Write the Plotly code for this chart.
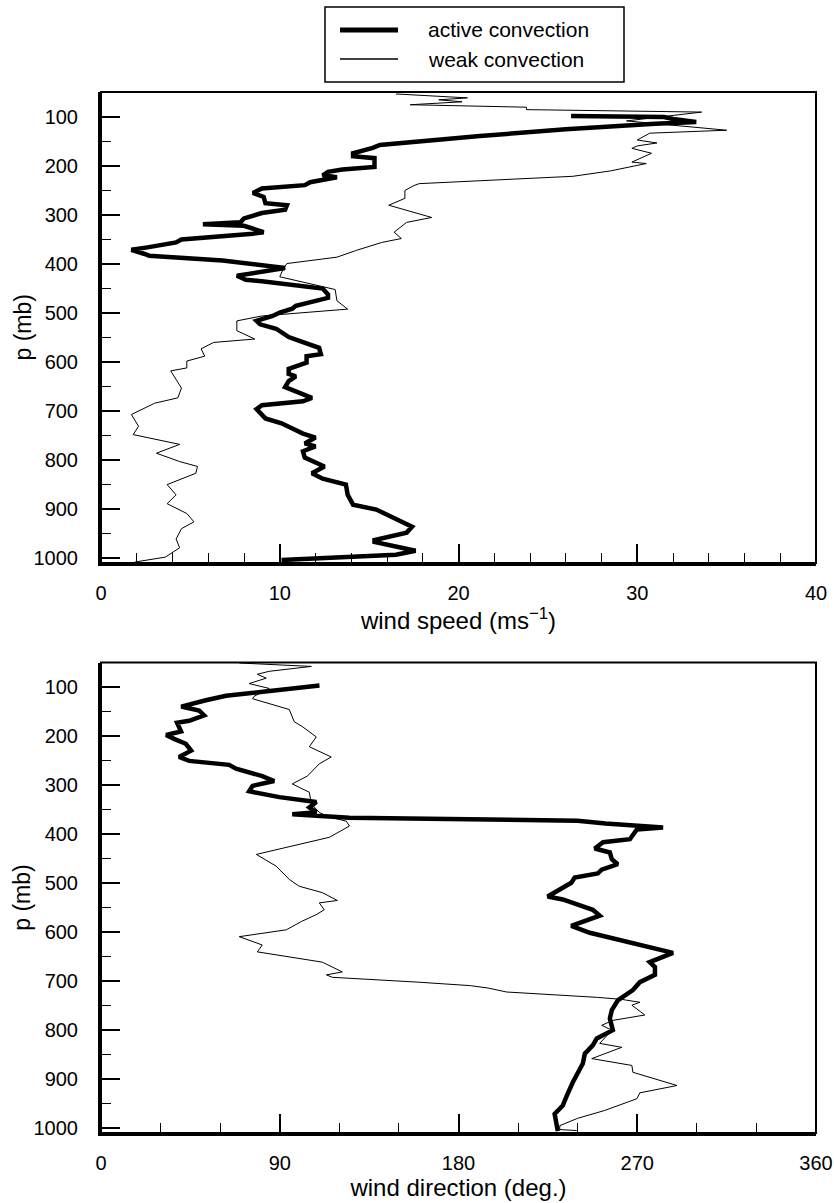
import plotly.graph_objects as go

# ---------------- data ----------------
# Top panel: wind speed (m/s) vs pressure (mb)
active_speed_p = [98, 100, 104, 110, 114, 125, 139, 150, 157, 163, 174, 180, 184, 202, 207, 212, 219, 223,
                  233, 239, 246, 255, 263, 276, 280, 289, 296, 307, 315, 319, 322, 335, 338, 350, 356, 366,
                  371, 379, 383, 393, 405, 408, 424, 432, 435, 450, 462, 469, 485, 491, 499, 506, 516, 523,
                  532, 540, 549, 557, 571, 584, 588, 601, 614, 624, 629, 639, 651, 673, 680, 688, 696, 715,
                  725, 746, 754, 766, 772, 782, 795, 813, 827, 838, 850, 871, 891, 901, 920, 936, 948, 963,
                  967, 979, 985, 993, 1004]
active_speed_v = [26.3, 31.5, 32.0, 33.3, 31.0, 26.0, 21.2, 18.0, 15.6, 15.2, 14.1, 14.1, 15.3, 15.3, 13.5, 12.7,
                  12.4, 13.2, 11.7, 11.4, 9.0, 8.5, 9.1, 9.2, 10.4, 10.3, 9.0, 8.0, 7.8, 5.7, 8.0, 9.1, 8.5,
                  4.5, 4.2, 2.6, 1.7, 2.4, 2.7, 6.8, 10.1, 10.3, 7.6, 8.1, 9.0, 12.4, 12.7, 12.7, 10.9, 10.7,
                  10.0, 9.6, 8.7, 8.9, 9.8, 10.1, 10.5, 11.1, 12.2, 12.3, 11.5, 11.5, 10.5, 10.5, 10.9, 10.5,
                  10.3, 11.8, 11.3, 9.0, 8.7, 9.2, 10.1, 11.3, 12.0, 11.4, 12.0, 11.3, 11.4, 12.5, 11.8, 12.4,
                  13.7, 13.8, 14.1, 15.4, 16.5, 17.4, 17.1, 15.3, 15.3, 16.9, 17.6, 16.5, 10.1]

weak_speed_p = [53, 61, 65, 69, 75, 80, 85, 90, 108, 127, 133, 147, 153, 159, 164, 174, 192, 195, 210, 221,
                236, 240, 250, 266, 280, 305, 315, 335, 348, 356, 372, 386, 399, 410, 426, 452, 475, 492,
                506, 516, 536, 553, 560, 573, 588, 598, 612, 618, 653, 673, 684, 707, 731, 748, 768, 786,
                803, 813, 827, 850, 871, 889, 909, 926, 940, 961, 979, 998, 1008]
weak_speed_v = [16.5, 20.5, 18.9, 20.2, 17.3, 23.8, 23.8, 33.6, 29.4, 35.0, 30.7, 30.0, 31.1, 30.0, 29.7, 30.8,
                29.7, 30.5, 28.5, 26.4, 17.8, 17.5, 17.0, 17.0, 16.1, 18.5, 17.1, 16.4, 16.8, 15.7, 14.3,
                13.2, 10.4, 10.2, 10.0, 13.1, 13.2, 13.8, 9.0, 7.6, 7.6, 8.6, 6.3, 5.6, 5.8, 4.8, 4.8, 3.9,
                4.5, 4.3, 3.0, 1.7, 2.1, 1.8, 4.4, 3.1, 4.4, 5.4, 5.3, 3.7, 4.2, 3.7, 4.8, 5.2, 4.5, 4.2,
                4.4, 3.6, 1.9]

# Bottom panel: wind direction (deg) vs pressure (mb)
active_dir_p = [96, 106, 117, 126, 135, 139, 147, 157, 168, 172, 190, 197, 205, 215, 229, 242, 250, 258, 266,
                281, 291, 301, 312, 324, 334, 345, 355, 359, 362, 366, 369, 372, 378, 386, 390, 410, 416,
                429, 437, 451, 461, 472, 480, 488, 499, 527, 533, 554, 566, 587, 601, 620, 642, 661, 671,
                687, 702, 718, 732, 739, 759, 776, 800, 817, 831, 848, 868, 889, 907, 934, 954, 971, 1006]
active_dir_d = [110, 86.4, 63, 52.8, 42.7, 40.4, 49.4, 51.9, 44.4, 38.3, 40.3, 32.8, 36.8, 42.7, 45.4, 39.3,
                44.4, 64.5, 68.0, 81.2, 87.2, 76.3, 74.6, 89.8, 108.4, 104.9, 108.4, 96.3, 108.4, 125,
                185, 240, 254, 283, 269.8, 266.3, 252.8, 248.6, 256.2, 257.2, 260.2, 252.1, 250.1, 238.5,
                236.8, 224.9, 232.5, 247.6, 251.1, 236.8, 246.1, 266.3, 288.0, 276.3, 278.9, 278.9, 271.3,
                267.8, 262.7, 260.2, 257.2, 256.2, 257.7, 249.6, 247.6, 243.6, 242.6, 239.5, 237.5, 234.5,
                232.5, 228.4, 230]

weak_dir_p = [50, 57, 67, 73, 81, 92, 102, 118, 123, 145, 170, 180, 201, 221, 242, 256, 281, 297, 304, 314,
              338, 355, 363, 373, 383, 406, 441, 465, 492, 506, 519, 535, 540, 554, 564, 578, 595, 609, 626,
              640, 661, 681, 687, 692, 702, 709, 714, 722, 733, 737, 743, 749, 769, 780, 790, 800, 827, 835,
              858, 872, 886, 913, 928, 940, 964, 980, 995, 1003, 1005]
weak_dir_d = [69.6, 105.9, 84.7, 78.7, 83.2, 74.6, 84.7, 77.1, 76.3, 94.8, 97.3, 101.4, 108.4, 104.9, 115.9,
              109.9, 103.9, 96.3, 99.8, 104.9, 105.9, 109.9, 113.5, 123.5, 125.1, 115, 78.2, 88.2, 94.8,
              99.8, 111.4, 119.0, 109.9, 112.4, 108.4, 100.9, 93.3, 69.6, 81.2, 78.7, 111.4, 121.5, 113.5,
              116.5, 160, 186, 195, 204.2, 250, 262, 271.3, 267.3, 273.8, 257.7, 252.1, 257.2, 251.1, 262.2,
              247.1, 267.3, 267.8, 290.0, 271.3, 269.8, 253.6, 240, 231, 231, 239.5]

series_names = ["active convection", "weak convection"]
speed_ticks = [0, 10, 20, 30, 40]
dir_ticks = [0, 90, 180, 270, 360]
p_ticks = [100, 200, 300, 400, 500, 600, 700, 800, 900, 1000]

# ---------------- figure ----------------
FONT = "Liberation Sans, Arial, sans-serif"
W, H = 834, 1203
ML, MR, MT, MB = 101, 18, 92, 70
PW, PH = W - ML - MR, H - MT - MB

def px_x(px):
    return (px - ML) / PW

def px_y(py):
    return (H - MB - py) / PH

THICK = 4.5
THIN = 1.0

fig = go.Figure()
fig.add_trace(go.Scatter(x=active_speed_v, y=active_speed_p, mode="lines", name=series_names[0],
                         line=dict(color="black", width=THICK), xaxis="x", yaxis="y", showlegend=False))
fig.add_trace(go.Scatter(x=weak_speed_v, y=weak_speed_p, mode="lines", name=series_names[1],
                         line=dict(color="black", width=THIN), xaxis="x", yaxis="y", showlegend=False))
fig.add_trace(go.Scatter(x=active_dir_d, y=active_dir_p, mode="lines", name=series_names[0],
                         line=dict(color="black", width=THICK), xaxis="x2", yaxis="y2", showlegend=False))
fig.add_trace(go.Scatter(x=weak_dir_d, y=weak_dir_p, mode="lines", name=series_names[1],
                         line=dict(color="black", width=THIN), xaxis="x2", yaxis="y2", showlegend=False))

top_dom = [px_y(563), 1.0]
bot_dom = [0.0, px_y(662.5)]

def xax(rng, ticks, minor_dt, title, anchor, standoff):
    return dict(range=rng, tickvals=ticks, ticks="inside", ticklen=19, tickwidth=2, tickcolor="black",
                showline=True, linewidth=3, linecolor="black", showgrid=False, zeroline=False,
                automargin=False,
                minor=dict(dtick=minor_dt, tick0=0, ticks="inside", ticklen=10, tickwidth=1,
                           tickcolor="black", showgrid=False),
                tickfont=dict(family=FONT, size=20, color="black"), ticklabelstandoff=10,
                title=dict(text=title, font=dict(family=FONT, size=24, color="black"), standoff=standoff),
                anchor=anchor, domain=[0, 1])

def yax(dom, anchor):
    return dict(range=[1010, 49], tickvals=p_ticks, ticks="inside", ticklen=19, tickwidth=2,
                tickcolor="black", showline=True, linewidth=3, linecolor="black", showgrid=False,
                zeroline=False, automargin=False,
                minor=dict(dtick=50, tick0=0, ticks="inside", ticklen=10, tickwidth=1,
                           tickcolor="black", showgrid=False),
                tickfont=dict(family=FONT, size=20, color="black"), ticklabelstandoff=16,
                anchor=anchor, domain=dom)

shapes = []
for xr, yr in (("x domain", "y domain"), ("x2 domain", "y2 domain")):
    shapes.append(dict(type="rect", xref=xr, yref=yr, x0=0, x1=1, y0=0, y1=1,
                       line=dict(color="black", width=2), fillcolor="rgba(0,0,0,0)", layer="above"))

# legend box (drawn manually to match the reference layout)
shapes.append(dict(type="rect", xref="paper", yref="paper", x0=px_x(325), x1=px_x(624),
                   y0=px_y(82), y1=px_y(7), line=dict(color="black", width=1.5),
                   fillcolor="white"))
shapes.append(dict(type="line", xref="paper", yref="paper", x0=px_x(340), x1=px_x(398),
                   y0=px_y(30), y1=px_y(30), line=dict(color="black", width=THICK + 0.5)))
shapes.append(dict(type="line", xref="paper", yref="paper", x0=px_x(340), x1=px_x(398),
                   y0=px_y(59), y1=px_y(59), line=dict(color="black", width=THIN + 0.3)))

annotations = [
    dict(text=series_names[0], xref="paper", yref="paper", x=px_x(426), y=px_y(30), xanchor="left",
         yanchor="middle", showarrow=False, font=dict(family=FONT, size=21, color="black")),
    dict(text=series_names[1], xref="paper", yref="paper", x=px_x(426), y=px_y(59), xanchor="left",
         yanchor="middle", showarrow=False, font=dict(family=FONT, size=21, color="black")),
    # y-axis titles placed as rotated text
    dict(text="p (mb)", xref="paper", yref="y domain", x=px_x(22), y=0.5, xanchor="center",
         yanchor="middle", textangle=-90, showarrow=False,
         font=dict(family=FONT, size=23, color="black")),
    dict(text="p (mb)", xref="paper", yref="y2 domain", x=px_x(22), y=0.5, xanchor="center",
         yanchor="middle", textangle=-90, showarrow=False,
         font=dict(family=FONT, size=23, color="black")),
]

fig.update_layout(
    width=W, height=H, margin=dict(l=ML, r=MR, t=MT, b=MB, pad=0, autoexpand=False),
    paper_bgcolor="white", plot_bgcolor="white",
    font=dict(family=FONT, color="black"),
    xaxis=xax([0, 40], speed_ticks, 2, "wind speed (ms<sup>\u22121</sup>)", "y", 2),
    yaxis=yax(top_dom, "x"),
    xaxis2=xax([0, 360], dir_ticks, 30, "wind direction (deg.)", "y2", 2),
    yaxis2=yax(bot_dom, "x2"),
    shapes=shapes, annotations=annotations, showlegend=False,
)

fig.write_html("out.html")
